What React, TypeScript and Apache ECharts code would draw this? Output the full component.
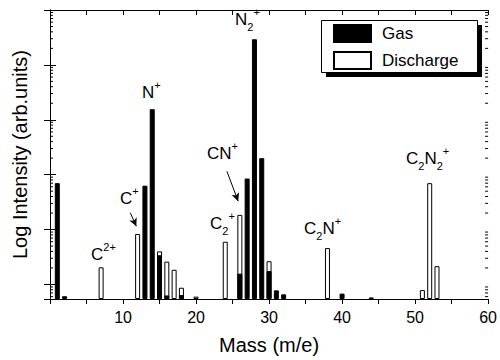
import React, { useEffect, useRef } from 'react';
import * as echarts from 'echarts';

// ---- data ----
const gasMass = [1, 2, 13, 14, 15, 16, 18, 26, 27, 28, 29, 30, 31, 32, 40];
const gasIntensity = [70, 0.61, 63, 1560, 3.4, 0.63, 0.64, 1.57, 85, 29300, 200, 1.75, 0.78, 0.66, 0.68];

const dischargeMass = [7, 12, 15, 16, 17, 18, 20, 24, 26, 30, 38, 44, 51, 52, 53];
const dischargeIntensity = [2.05, 8.3, 4.0, 2.6, 1.85, 0.87, 0.6, 6.0, 18.5, 2.65, 4.6, 0.58, 0.79, 70, 2.15];

const legendNames = ['Gas', 'Discharge'];
const xTickLabels = [10, 20, 30, 40, 50, 60];

// arrows: [start [mass, intensity], end [mass, intensity]]
const arrowStarts = [[11.0, 20.2], [24.23, 115]];
const arrowEnds = [[11.82, 11.5], [25.77, 32.9]];

const YMIN = 0.543;
const YMAX = 100000;
const FONT = "'Liberation Sans', Arial, sans-serif";

// species labels (rich text)
const annotations = [
  { text: '{m|C}{sup2|2+}', x: 91, y: 241 },
  { text: '{m|C}{sup|+}', x: 120, y: 185 },
  { text: '{m|N}{sup|+}', x: 142, y: 79 },
  { text: '{m|N}{sub|2}{sup|+}', x: 235, y: 6 },
  { text: '{m|CN}{sup|+}', x: 207, y: 140 },
  { text: '{m|C}{sub|2}{sup|+}', x: 210, y: 210 },
  { text: '{m|C}{sub|2}{m|N}{sup|+}', x: 304, y: 215 },
  { text: '{m|C}{sub|2}{m|N}{sub|2}{sup|+}', x: 406, y: 145 },
];

const LEG_X = 321;
const LEG_Y = 20;
const LEG_W = 156;
const LEG_H = 52;
const SHADOW = 5;

function minorTickValues(): number[] {
  const out: number[] = [];
  for (let k = -1; k <= 4; k++) {
    for (let m = 2; m <= 9; m++) {
      const v = m * Math.pow(10, k);
      if (v > YMIN && v < YMAX) out.push(v);
    }
  }
  return out;
}

export default function App() {
  const ref = useRef<HTMLDivElement>(null);

  useEffect(() => {
    if (!ref.current) return;
    const chart = echarts.init(ref.current, undefined, { renderer: 'svg' });

    const rich = {
      m: { fontSize: 17, lineHeight: 26, verticalAlign: 'middle', fontFamily: FONT, color: '#000' },
      sup: { fontSize: 11, lineHeight: 8, verticalAlign: 'top', fontFamily: FONT, color: '#000' },
      sup2: { fontSize: 11, lineHeight: 12, verticalAlign: 'top', fontFamily: FONT, color: '#000' },
      sub: { fontSize: 11, lineHeight: 12, verticalAlign: 'bottom', fontFamily: FONT, color: '#000' },
    };

    const axisLine = { show: true, lineStyle: { color: '#000', width: 1 } };

    const option: any = {
      animation: false,
      backgroundColor: '#fff',
      grid: { left: 50, right: 10, top: 10, bottom: 60, containLabel: false },
      legend: {
        data: legendNames,
        orient: 'vertical',
        left: LEG_X,
        top: LEG_Y,
        itemWidth: 37,
        itemHeight: 17,
        itemGap: 8,
        padding: [4, 17, 6, 12],
        backgroundColor: 'transparent',
        borderWidth: 0,
        icon: 'rect',
        selectedMode: false,
        z: 10,
        textStyle: { fontSize: 17, color: '#000', fontFamily: FONT, padding: [0, 0, 0, 6] },
      },
      xAxis: [
        {
          type: 'value',
          min: 0,
          max: 60,
          interval: 5,
          position: 'bottom',
          axisLine,
          axisTick: { show: true, inside: false, length: 5, lineStyle: { color: '#000' } },
          axisLabel: {
            formatter: (v: number) => (xTickLabels.includes(v) ? String(v) : ''),
            fontSize: 16,
            color: '#000',
            fontFamily: FONT,
            margin: 10,
          },
          splitLine: { show: false },
          name: 'Mass (m/e)',
          nameLocation: 'middle',
          nameGap: 36,
          nameTextStyle: { fontSize: 20, color: '#000', fontFamily: FONT },
        },
        {
          type: 'value',
          min: 0,
          max: 60,
          interval: 5,
          position: 'top',
          axisLine,
          axisTick: { show: true, inside: true, length: 5, lineStyle: { color: '#000' } },
          axisLabel: { show: false },
          splitLine: { show: false },
        },
      ],
      yAxis: [
        {
          type: 'log',
          logBase: 10,
          min: YMIN,
          max: YMAX,
          startValue: YMIN,
          position: 'left',
          axisLine,
          axisTick: { show: true, inside: true, length: 6, lineStyle: { color: '#000' } },
          axisLabel: { show: false },
          splitLine: { show: false },
          name: 'Log Intensity (arb.units)',
          nameLocation: 'middle',
          nameGap: 20,
          nameTextStyle: { fontSize: 20, color: '#000', fontFamily: FONT },
        },
        {
          type: 'log',
          logBase: 10,
          min: YMIN,
          max: YMAX,
          position: 'right',
          axisLine,
          axisTick: { show: true, inside: true, length: 6, lineStyle: { color: '#000' } },
          axisLabel: { show: false },
          splitLine: { show: false },
        },
      ],
      series: [
        {
          name: 'Discharge',
          type: 'bar',
          xAxisIndex: 0,
          yAxisIndex: 0,
          barWidth: 5,
          barGap: '-100%',
          data: dischargeMass.map((m, i) => [m, dischargeIntensity[i]]),
          itemStyle: { color: '#fff', borderColor: '#000', borderWidth: 1 },
          markLine: {
            silent: true,
            symbol: ['none', 'arrow'],
            symbolSize: [6, 8],
            lineStyle: { color: '#000', width: 1, type: 'solid' },
            label: { show: false },
            data: arrowStarts.map((s, i) => [{ coord: s }, { coord: arrowEnds[i] }]),
          },
        },
        {
          name: 'Gas',
          type: 'bar',
          xAxisIndex: 0,
          yAxisIndex: 0,
          barWidth: 5,
          barGap: '-100%',
          data: gasMass.map((m, i) => [m, gasIntensity[i]]),
          itemStyle: { color: '#000', borderColor: '#000', borderWidth: 1 },
        },
        {
          type: 'custom',
          xAxisIndex: 0,
          yAxisIndex: 0,
          silent: true,
          clip: false,
          z: 5,
          data: minorTickValues().map((v) => [0, v]),
          renderItem: (params: any, api: any) => {
            const v = api.value(1);
            const pl = api.coord([0, v]);
            const pr = api.coord([60, v]);
            const style = { stroke: '#000', lineWidth: 1 };
            return {
              type: 'group',
              children: [
                { type: 'line', shape: { x1: pl[0], y1: pl[1], x2: pl[0] + 3, y2: pl[1] }, style },
                { type: 'line', shape: { x1: pr[0] - 3, y1: pr[1], x2: pr[0], y2: pr[1] }, style },
              ],
            };
          },
        },
      ],
      graphic: [
        {
          type: 'rect',
          left: LEG_X + SHADOW,
          top: LEG_Y + SHADOW,
          z: 6,
          silent: true,
          shape: { width: LEG_W, height: LEG_H },
          style: { fill: '#000' },
        },
        {
          type: 'rect',
          left: LEG_X,
          top: LEG_Y,
          z: 7,
          silent: true,
          shape: { width: LEG_W, height: LEG_H },
          style: { fill: '#fff', stroke: '#000', lineWidth: 1 },
        },
        ...annotations.map((a) => ({
          type: 'text',
          x: a.x,
          y: a.y,
          z: 8,
          silent: true,
          style: { text: a.text, rich, align: 'left', verticalAlign: 'top', fill: '#000' },
        })),
      ],
    };

    chart.setOption(option);
    return () => chart.dispose();
  }, []);

  return (
    <div
      ref={ref}
      style={{ position: 'fixed', left: 0, top: 0, width: 500, height: 360, background: '#fff' }}
    />
  );
}
